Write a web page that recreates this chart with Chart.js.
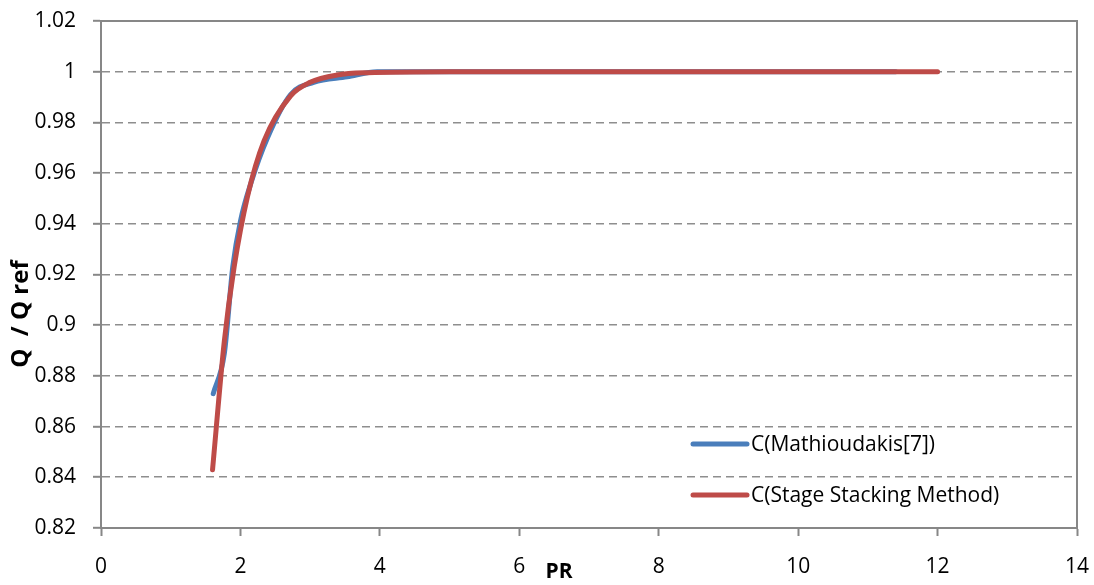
<!DOCTYPE html>
<html>
<head>
<meta charset="utf-8">
<script src="https://cdn.jsdelivr.net/npm/chart.js@4"></script>
<style>
    body { margin: 0; background: #fff; }
</style>
</head>
<body>
<canvas id="chart" width="1094" height="585"></canvas>
<script>
//DATOS

const prMathioudakis = [1.61, 1.77, 1.89, 2.0, 2.15, 2.39, 2.72, 3.05, 3.53, 3.96, 5, 6, 7, 8, 9, 10, 11.4]
const qMathioudakis = [0.873, 0.889, 0.923, 0.941, 0.956, 0.974, 0.991, 0.9958, 0.998, 1.0, 1, 1, 1, 1, 1, 1, 1]

const prStacking = [1.6, 1.77, 1.91, 2.1, 2.34, 2.72, 3.0, 3.39, 3.82, 5, 6, 7, 8, 9, 10, 11, 12]
const qStacking = [0.843, 0.894, 0.923, 0.9506, 0.9728, 0.9905, 0.9958, 0.9987, 0.9996, 1, 1, 1, 1, 1, 1, 1, 1]

const seriesNames = ["C(Mathioudakis[7])", "C(Stage Stacking Method)"]
const xTicks = [0, 2, 4, 6, 8, 10, 12, 14]
const yTicks = [0.82, 0.84, 0.86, 0.88, 0.9, 0.92, 0.94, 0.96, 0.98, 1, 1.02]
const xTitle = "PR"
const yTitle = "Q  / Q ref"

const fontFamily = "'Open Sans', sans-serif"
const gray = "#878787"

function puntos(xs, ys) {
    return xs.map((x, i) => {
        return { x: x, y: ys[i] }
    })
}

//MARCO, TITULOS Y LEYENDA

const extras = {
    id: "extras",
    afterDraw(chart) {
        const ctx = chart.ctx
        const area = chart.chartArea
        ctx.save()

        // top and right frame
        ctx.strokeStyle = gray
        ctx.lineWidth = 2
        ctx.beginPath()
        ctx.moveTo(area.left, area.top)
        ctx.lineTo(area.right, area.top)
        ctx.lineTo(area.right, area.bottom)
        ctx.stroke()

        // axis titles
        ctx.fillStyle = "#000"
        ctx.font = "bold 21px " + fontFamily
        ctx.textAlign = "center"
        ctx.textBaseline = "middle"
        ctx.fillText(xTitle, area.left + 458, area.bottom + 44)

        ctx.save()
        ctx.font = "bold 24px " + fontFamily
        ctx.translate(21, area.top + 293)
        ctx.rotate(-Math.PI / 2)
        ctx.fillText(yTitle, 0, 0)
        ctx.restore()

        // legend inside the plot
        ctx.font = "21px " + fontFamily
        ctx.textAlign = "left"
        chart.data.datasets.forEach((ds, i) => {
            const y = area.bottom - 84 + i * 51
            const x0 = area.right - 384
            ctx.strokeStyle = ds.borderColor
            ctx.lineWidth = 5
            ctx.lineCap = "round"
            ctx.beginPath()
            ctx.moveTo(x0, y)
            ctx.lineTo(x0 + 54, y)
            ctx.stroke()
            ctx.fillText(ds.label, x0 + 58, y + 1)
        })
        ctx.restore()
    }
}

const config = {
    type: "line",
    data: {
        datasets: [{
            label: seriesNames[0],
            data: puntos(prMathioudakis, qMathioudakis),
            borderColor: "#4a7ebb",
            borderWidth: 5,
            order: 2
        }, {
            label: seriesNames[1],
            data: puntos(prStacking, qStacking),
            borderColor: "#be4b48",
            borderWidth: 5,
            order: 1
        }]
    },
    options: {
        responsive: false,
        animation: false,
        events: [],
        layout: { padding: { top: 21, right: 17, left: 0, bottom: 0 } },
        elements: {
            point: { radius: 0 },
            line: { tension: 0.4, cubicInterpolationMode: "monotone", borderCapStyle: "round", borderJoinStyle: "round" }
        },
        plugins: {
            legend: { display: false },
            tooltip: { enabled: false }
        },
        scales: {
            x: {
                type: "linear",
                min: 0,
                max: 14,
                afterBuildTicks: (scale) => {
                    scale.ticks = xTicks.map((v) => ({ value: v }))
                },
                afterFit: (scale) => {
                    scale.height = 57
                    scale.paddingLeft = 0
                    scale.paddingRight = 0
                },
                grid: { drawOnChartArea: false, tickLength: 8, tickColor: gray, tickWidth: 2 },
                border: { color: gray, width: 2 },
                ticks: { color: "#000", padding: 18, maxRotation: 0, font: { family: fontFamily, size: 21 } }
            },
            y: {
                min: 0.82,
                max: 1.02,
                afterBuildTicks: (scale) => {
                    scale.ticks = yTicks.map((v) => ({ value: v }))
                },
                afterFit: (scale) => {
                    scale.width = 101
                    scale.paddingTop = 0
                    scale.paddingBottom = 0
                },
                grid: { color: "#8e8e8e", lineWidth: 1.6, tickLength: 8, tickColor: gray, tickWidth: 2, tickBorderDash: [] },
                border: { color: gray, width: 2, dash: [8, 5] },
                ticks: {
                    color: "#000",
                    padding: 17,
                    font: { family: fontFamily, size: 21 },
                    callback: (v) => String(Number(v.toFixed(2)))
                }
            }
        }
    },
    plugins: [extras]
}

let chartInstance = new Chart(document.getElementById("chart"), config)
</script>
</body>
</html>
